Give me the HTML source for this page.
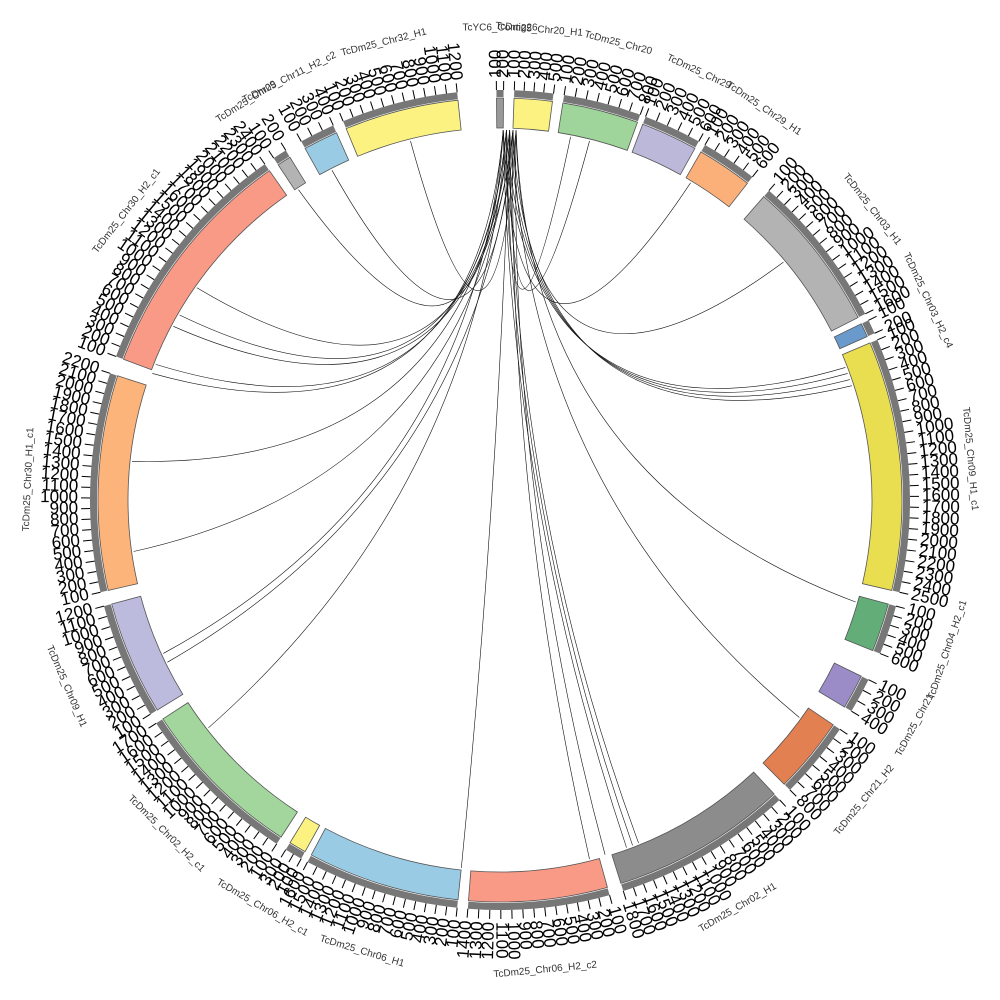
<!DOCTYPE html>
<html><head><meta charset="utf-8"><style>
html,body{margin:0;padding:0;background:#fff;}
svg{display:block;font-family:"Liberation Sans",sans-serif;}
</style></head><body>
<svg id="s" width="1000" height="1000" viewBox="0 0 1000 1000" xmlns="http://www.w3.org/2000/svg"></svg>
<script>
const S=document.getElementById('s'),NS='http://www.w3.org/2000/svg';
const cx=500,cy=500,R1=372,R2=402;
function el(t,a,p){const e=document.createElementNS(NS,t);for(const k in a)e.setAttribute(k,a[k]);(p||S).appendChild(e);return e;}
function pt(a,r){const t=a*Math.PI/180;return [cx+r*Math.sin(t),cy-r*Math.cos(t)];}
function arc(a0,a1,r0,r1){const la=(a1-a0)>180?1:0;const p=pt(a0,r1),q=pt(a1,r1),u=pt(a1,r0),v=pt(a0,r0);
return `M${p[0]},${p[1]}A${r1},${r1} 0 ${la} 1 ${q[0]},${q[1]}L${u[0]},${u[1]}A${r0},${r0} 0 ${la} 0 ${v[0]},${v[1]}Z`;}
const segs=[
[-0.5,0.5,'#999','TcYC6_Contig26'],
[2,7.5,'#fbf282','TcDm25_Chr20_H1'],
[9,20,'#9fd49a','TcDm25_Chr20'],
[20.8,29,'#bcb8da','TcDm25_Chr29'],
[30,38,'#fbb07a','TcDm25_Chr29_H1'],
[41,63,'#b3b3b3','TcDm25_Chr03_H1'],
[64,66,'#6a99cc','TcDm25_Chr03_H2_c4'],
[67,103,'#e8de50','TcDm25_Chr09_H1_c1'],
[105,112,'#63ad78','TcDm25_Chr04_H2_c1'],
[116,121,'#9b8cc7','TcDm25_Chr21'],
[124,135,'#e38052','TcDm25_Chr21_H2'],
[137,162.5,'#8c8c8c','TcDm25_Chr02_H1'],
[164.5,184.5,'#f99a86','TcDm25_Chr06_H2_c2'],
[186,208,'#9acbe4','TcDm25_Chr06_H1'],
[209,211.5,'#fbf282','TcDm25_Chr06_H2_c1'],
[213,237,'#a3d69d','TcDm25_Chr02_H2_c1'],
[238.5,255,'#bcbadd','TcDm25_Chr09_H1'],
[257,288,'#fcb47a','TcDm25_Chr30_H1_c1'],
[290.5,325,'#f99a86','TcDm25_Chr30_H2_c1'],
[326.5,328.5,'#b3b3b3','TcDm25_Chr09'],
[331,336,'#9acbe4','TcDm25_Chr11_H2_c2'],
[337.5,354,'#fbf282','TcDm25_Chr32_H1']];
const lg=el('g',{fill:'none',stroke:'#111','stroke-width':0.6});
const ends=[290,291.5,276,262,244,245.5,232,186,166,163.5,160,159,158,126,106,69,70,71,72,50,31,11,14,333,346,327,300,305,298];
ends.forEach((e,i)=>{const s=0.5+(i%5)*0.5;const p=pt(s,R1-2),q=pt(e,R1-2);
const c=[cx+((p[0]+q[0])/2-cx)*0.15,cy+((p[1]+q[1])/2-cy)*0.15];
el('path',{d:`M${p[0]},${p[1]}Q${c[0]},${c[1]} ${q[0]},${q[1]}`},lg);});
segs.forEach(([a0,a1,col,name])=>{
el('path',{d:arc(a0,a1,R1,R2),fill:col,stroke:'#555','stroke-width':0.8});
el('path',{d:arc(a0,a1,R2+1,R2+8),fill:'#777'});
let n=Math.max(1,Math.round((a1-a0)/1.5));
for(let i=0;i<=n;i++){const a=a0+(a1-a0)*i/n;const p=pt(a,R2+8),q=pt(a,R2+17);
el('line',{x1:p[0],y1:p[1],x2:q[0],y2:q[1],stroke:'#000','stroke-width':1});
const t=pt(a,R2+20);let rot=a-90;let anchor='start';
if(a>180){rot=a+90;anchor='end';}
const tx=el('text',{x:t[0],y:t[1],'font-size':17,'text-anchor':anchor,'dominant-baseline':'middle',transform:`rotate(${rot} ${t[0]} ${t[1]})`},S);
tx.textContent=String((i+1)*100);}
const m=(a0+a1)/2;const t=pt(m,R2+70);let rot=m;if(m>90&&m<270)rot=m+180;
const tx=el('text',{x:t[0],y:t[1],'font-size':10,fill:'#333','text-anchor':'middle','dominant-baseline':'middle',transform:`rotate(${rot} ${t[0]} ${t[1]})`});
tx.textContent=name;});
</script>
</body></html>
